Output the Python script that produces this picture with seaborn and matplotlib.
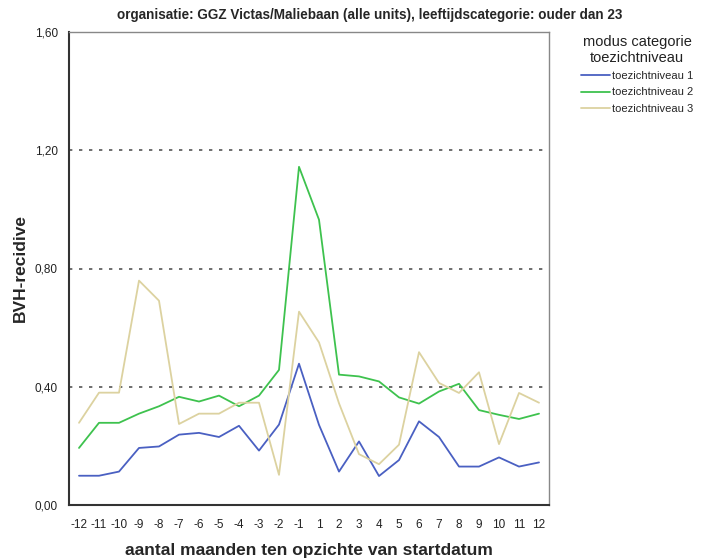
import matplotlib
matplotlib.use("Agg")
import matplotlib.pyplot as plt
import seaborn as sns
import pandas as pd

# maanden ten opzichte van startdatum (geen 0)
maanden = ["-12", "-11", "-10", "-9", "-8", "-7", "-6", "-5", "-4", "-3", "-2", "-1",
           "1", "2", "3", "4", "5", "6", "7", "8", "9", "10", "11", "12"]

niveau1 = [0.099, 0.099, 0.113, 0.193, 0.198, 0.238, 0.244, 0.230, 0.268, 0.184, 0.272, 0.478,
           0.271, 0.113, 0.215, 0.098, 0.152, 0.283, 0.230, 0.130, 0.130, 0.161, 0.130, 0.144]
niveau2 = [0.193, 0.278, 0.278, 0.309, 0.334, 0.366, 0.350, 0.370, 0.334, 0.370, 0.457, 1.144,
           0.965, 0.441, 0.435, 0.418, 0.364, 0.343, 0.384, 0.410, 0.321, 0.305, 0.291, 0.309]
niveau3 = [0.278, 0.380, 0.380, 0.759, 0.691, 0.274, 0.309, 0.309, 0.346, 0.346, 0.102, 0.654,
           0.550, 0.344, 0.172, 0.138, 0.204, 0.517, 0.413, 0.379, 0.449, 0.206, 0.379, 0.346]

reeksen = ["toezichtniveau 1", "toezichtniveau 2", "toezichtniveau 3"]
kleuren = ["#4a60c2", "#3ec24e", "#dcd2a0"]

df = pd.DataFrame({
    "maand": maanden * 3,
    "waarde": niveau1 + niveau2 + niveau3,
    "niveau": [r for r in reeksen for _ in maanden],
})

sns.set_style("white")
plt.rcParams["font.family"] = ["Liberation Sans", "DejaVu Sans"]

fig = plt.figure(figsize=(7.02, 5.58), dpi=100)
ax = fig.add_axes([69 / 702, 1 - 505 / 558, 480 / 702, 473 / 558])

sns.lineplot(data=df, x="maand", y="waarde", hue="niveau", palette=kleuren,
             sort=False, linewidth=1.3, ax=ax)

ax.set_xlim(-0.5, len(maanden) - 0.5)
ax.set_ylim(0, 1.6)
ax.set_yticks([0, 0.4, 0.8, 1.2, 1.6])
ax.set_yticklabels(["0,00", "0,40", "0,80", "1,20", "1,60"])
for y in [0.4, 0.8, 1.2, 1.6]:
    ax.axhline(y, color="#555555", linestyle=(0, (2, 4)), linewidth=1.2, zorder=0)

ax.tick_params(axis="both", direction="out", length=6, width=1, color="#333333",
               labelsize=8.5, pad=2, labelcolor="#222222")
ax.tick_params(axis="x", pad=4)
for s in ["left", "bottom"]:
    ax.spines[s].set_color("#333333")
    ax.spines[s].set_linewidth(1.5)
for s in ["top", "right"]:
    ax.spines[s].set_color("#888888")
    ax.spines[s].set_linewidth(1.0)

ax.set_xlabel("aantal maanden ten opzichte van startdatum", fontsize=12.5,
              fontweight="bold", labelpad=9)
ax.set_ylabel("BVH-recidive", fontsize=12.5, fontweight="bold", labelpad=5)

fig.text(370 / 702, 1 - 15 / 558,
         "organisatie: GGZ Victas/Maliebaan (alle units), leeftijdscategorie: ouder dan 23",
         ha="center", va="center", fontsize=9.75, fontweight="bold")

leg = ax.legend(title="modus categorie\ntoezichtniveau", loc="upper left",
                bbox_to_anchor=(581 / 702, 1 - 35 / 558), bbox_transform=fig.transFigure,
                frameon=False, fontsize=8, title_fontsize=10.5, handlelength=2.6,
                handletextpad=0.2, labelspacing=0.55, borderpad=0, borderaxespad=0)
leg._legend_box.align = "center"
leg.get_title().set_multialignment("center")
leg.get_title().set_color("#222222")

fig.savefig("out.png", dpi=100)
